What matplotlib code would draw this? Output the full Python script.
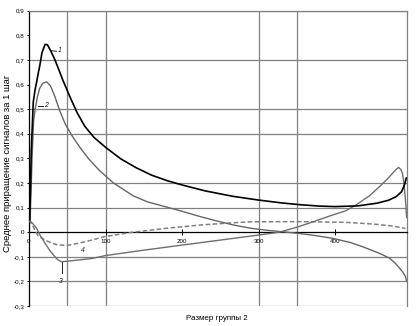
"""Average signal increment vs. group size, four curves (Excel-style chart)."""
import matplotlib

matplotlib.use("Agg")
import matplotlib.pyplot as plt

# curve 1 (black)
x1 = [1, 3, 5.6, 8, 10, 12, 14, 17, 21, 24, 27, 31, 34, 39, 44, 53.5, 63, 73, 85,
      100, 120, 140, 160, 180, 200, 230, 266, 299, 330, 353, 380, 400, 430, 455,
      470, 480, 487, 491, 493]
y1 = [0.05, 0.33, 0.53, 0.58, 0.61, 0.645, 0.675, 0.73, 0.763, 0.762, 0.745,
      0.72, 0.70, 0.66, 0.62, 0.55, 0.485, 0.43, 0.385, 0.345, 0.298, 0.262,
      0.232, 0.21, 0.192, 0.168, 0.146, 0.131, 0.119, 0.112, 0.106, 0.104, 0.107,
      0.118, 0.13, 0.145, 0.165, 0.195, 0.22]

# curve 2 (grey)
x2 = [1.5, 4, 6, 8, 11, 14, 18, 23, 28, 34, 40, 47, 56, 66.5, 78, 92, 110, 136,
      155, 180, 200, 223, 245, 266, 290, 310, 330, 353, 375, 397, 420, 436, 458,
      471, 479, 488, 492, 493.5]
y2 = [0.05, 0.3, 0.45, 0.50, 0.55, 0.585, 0.605, 0.611, 0.595, 0.55, 0.495,
      0.442, 0.393, 0.345, 0.298, 0.251, 0.201, 0.148, 0.123, 0.102, 0.085, 0.064,
      0.046, 0.03, 0.016, 0.008, 0.002, -0.005, -0.014, -0.025, -0.042, -0.059,
      -0.086, -0.105, -0.127, -0.16, -0.18, -0.2]

# curve 3 (grey)
x3 = [0, 5, 10, 15, 21, 28, 34, 38, 42.5, 50, 82, 100, 125, 150, 201, 250, 299,
      327, 350, 371, 395, 414, 427, 445, 458, 468, 475, 480, 483, 486, 488, 490,
      492, 493.5]
y3 = [0.05, 0.035, 0.015, -0.015, -0.045, -0.078, -0.1, -0.113, -0.12, -0.118,
      -0.107, -0.095, -0.084, -0.073, -0.052, -0.032, -0.012, 0.0, 0.02, 0.042,
      0.068, 0.087, 0.11, 0.148, 0.185, 0.215, 0.239, 0.256, 0.263, 0.255, 0.239,
      0.2, 0.13, 0.06]

# curve 4 (dashed)
x4 = [0, 5, 12, 21, 30, 38, 51, 65, 82, 99, 125, 136, 180, 223, 260, 288, 353,
      414, 450, 475, 492]
y4 = [0.05, 0.025, -0.015, -0.032, -0.045, -0.052, -0.053, -0.045, -0.032,
      -0.018, -0.005, 0.0, 0.016, 0.029, 0.037, 0.042, 0.043, 0.04, 0.033, 0.025,
      0.015]

x_ticks = [0, 100, 200, 300, 400]
y_ticks = [-0.3, -0.2, -0.1, 0.0, 0.1, 0.2, 0.3, 0.4, 0.5, 0.6, 0.7, 0.8, 0.9]
h_grid = [-0.3, -0.2, -0.1, 0.1, 0.2, 0.4, 0.5, 0.7, 0.9]
v_grid = [50, 100, 300, 350]
x_max = 494

plt.rcParams["font.family"] = ["Liberation Sans", "DejaVu Sans"]

fig = plt.figure(figsize=(4.16, 3.26), dpi=100)
ax = fig.add_axes([0.0697, 0.0613, 0.9087, 0.9058])
ax.set_xlim(0, x_max)
ax.set_ylim(-0.3, 0.9)

grid_c = "#808080"
for v in h_grid:
    ax.axhline(v, color=grid_c, lw=0.9, zorder=1)
for v in v_grid:
    ax.axvline(v, color=grid_c, lw=0.9, zorder=1)

ax.plot(x4, y4, color="#808080", lw=1.1, ls=(0, (3, 1.6)), zorder=3)
ax.plot(x3, y3, color="#6e6e6e", lw=1.0, zorder=3)
ax.plot(x2, y2, color="#666666", lw=1.0, zorder=3)
ax.plot(x1, y1, color="black", lw=1.2, zorder=4)

# curve labels with short leaders
lab_kw = dict(fontsize=5, style="italic", color="#222222")
ax.plot([28, 36], [0.738, 0.735], color="black", lw=0.6)
ax.text(37.5, 0.737, "1", va="center", **lab_kw)
ax.plot([12, 18], [0.513, 0.513], color="black", lw=0.6)
ax.text(20, 0.515, "2", va="center", **lab_kw)
ax.plot([43, 43], [-0.122, -0.165], color="black", lw=0.6)
ax.text(42, -0.2, "3", ha="center", va="center", **lab_kw)
ax.text(71, -0.074, "4", ha="center", va="center", **lab_kw)

# axes styling
for side in ("top", "right"):
    ax.spines[side].set_color(grid_c)
    ax.spines[side].set_linewidth(0.9)
ax.spines["bottom"].set_position(("data", 0))
ax.spines["bottom"].set_linewidth(0.9)
ax.spines["left"].set_linewidth(0.9)

ax.set_xticks(x_ticks)
ax.set_xticklabels([str(t) for t in x_ticks])
ax.set_yticks(y_ticks)
ax.set_yticklabels(["0" if t == 0 else f"{t:.1f}".replace(".", ",") for t in y_ticks])
ax.tick_params(axis="x", direction="inout", length=4, width=0.7, labelsize=4.5,
               pad=3)
ax.tick_params(axis="y", direction="out", length=1.5, width=0.7, labelsize=4.5,
               pad=2)

fig.text(0.0175, 0.50, "Среднее приращение сигналов за 1 шаг", rotation=90,
         ha="center", va="center", fontsize=6.8)
fig.text(0.522, 0.022, "Размер группы 2", ha="center", va="center", fontsize=5.8)

fig.savefig("out.png", dpi=100)
